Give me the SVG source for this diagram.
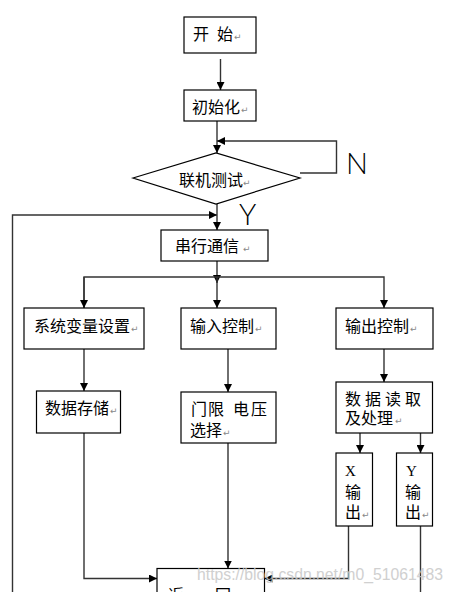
<svg xmlns="http://www.w3.org/2000/svg" width="453" height="592" viewBox="0 0 453 592">
<style>
.box{fill:#fff;stroke:#000;stroke-width:1.2}
.ln{fill:none;stroke:#333;stroke-width:1.4}
.t{font-family:"Noto Sans CJK SC","Noto Sans CJK JP",sans-serif;font-size:16px;fill:#000}
.r{font-family:"DejaVu Sans",sans-serif;font-size:9px;fill:#888}
.yn{font-family:"Lato","Liberation Sans",sans-serif;font-weight:300;font-size:29px;fill:#000}
.ser{font-family:"Liberation Serif",serif;font-size:15px;fill:#000}
.wm{font-family:"Liberation Sans",sans-serif;font-size:17px;fill:#c8c8c8;opacity:0.85}
</style>
<defs>
<marker id="ah" viewBox="0 0 10 10" refX="10" refY="5" markerWidth="8" markerHeight="8" markerUnits="userSpaceOnUse" orient="auto">
<path d="M0,0 L10,5 L0,10 Z" fill="#000"/>
</marker>
</defs>
<rect width="453" height="592" fill="#fff"/>
<g id="connectors">
<line class="ln" x1="220.5" y1="59" x2="220.5" y2="90" marker-end="url(#ah)"/>
<line class="ln" x1="217" y1="121" x2="217" y2="153" marker-end="url(#ah)"/>
<polyline class="ln" points="300,173 336.5,173 336.5,141 217,141" marker-end="url(#ah)"/>
<polyline class="ln" points="12.5,592 12.5,215 217,215" marker-end="url(#ah)"/>
<line class="ln" x1="217" y1="204" x2="217" y2="230" marker-end="url(#ah)"/>
<line class="ln" x1="217" y1="261" x2="217" y2="283" marker-end="url(#ah)"/>
<polyline class="ln" points="84,308 84,277 384,277 384,308" marker-end="url(#ah)"/>
<line class="ln" x1="217" y1="277" x2="217" y2="308" marker-end="url(#ah)"/>
<path class="ln" d="M84,277 L84,308" marker-end="url(#ah)"/>
<line class="ln" x1="84" y1="349" x2="84" y2="391" marker-end="url(#ah)"/>
<line class="ln" x1="228" y1="349" x2="228" y2="392" marker-end="url(#ah)"/>
<line class="ln" x1="384" y1="349" x2="384" y2="382" marker-end="url(#ah)"/>
<line class="ln" x1="360" y1="433" x2="360" y2="453" marker-end="url(#ah)"/>
<line class="ln" x1="420.5" y1="433" x2="420.5" y2="453" marker-end="url(#ah)"/>
<polyline class="ln" points="84,433 84,578.5 157,578.5" marker-end="url(#ah)"/>
<line class="ln" x1="228" y1="443" x2="228" y2="568.5" marker-end="url(#ah)"/>
<polyline class="ln" points="348.5,526 348.5,578.5 264.5,578.5" marker-end="url(#ah)"/>
<line class="ln" x1="420.5" y1="526" x2="420.5" y2="592"/>
</g>
<g id="n_start">
<rect class="box" x="184" y="17" width="72" height="36"/>
<text class="t" x="193 217" y="40">开始</text><text class="r" x="234" y="40">↵</text>
</g>
<g id="n_init">
<rect class="box" x="184" y="90" width="72" height="31"/>
<text class="t" x="192" y="113">初始化</text><text class="r" x="241" y="113">↵</text>
</g>
<g id="n_test">
<polygon class="box" points="133,178 216,153 300,178 216,204"/>
<text class="t" x="179" y="186">联机测试</text><text class="r" x="243" y="186">↵</text>
</g>
<text class="yn" x="346" y="174">N</text>
<text class="yn" x="239" y="225">Y</text>
<g id="n_serial">
<rect class="box" x="161" y="230" width="107" height="31"/>
<text class="t" x="175" y="252">串行通信</text><text class="r" x="243" y="252">↵</text>
</g>
<g id="n_sys">
<rect class="box" x="24" y="308" width="120" height="41"/>
<text class="t" x="34" y="332">系统变量设置</text><text class="r" x="131" y="332">↵</text>
</g>
<g id="n_in">
<rect class="box" x="181" y="308" width="95" height="41"/>
<text class="t" x="190" y="332">输入控制</text><text class="r" x="255" y="332">↵</text>
</g>
<g id="n_out">
<rect class="box" x="336" y="308" width="97" height="41"/>
<text class="t" x="345" y="332">输出控制</text><text class="r" x="410" y="332">↵</text>
</g>
<g id="n_store">
<rect class="box" x="36.5" y="391" width="84" height="42"/>
<text class="t" x="45" y="414">数据存储</text><text class="r" x="110" y="414">↵</text>
</g>
<g id="n_gate">
<rect class="box" x="181" y="392" width="95" height="51"/>
<text class="t" x="191 208 233 251" y="415">门限电压</text>
<text class="t" x="190" y="436">选择</text><text class="r" x="223" y="436">↵</text>
</g>
<g id="n_proc">
<rect class="box" x="336" y="382" width="96.5" height="51"/>
<text class="t" x="345 365 385 405" y="405">数据读取</text>
<text class="t" x="345" y="424">及处理</text><text class="r" x="395" y="424">↵</text>
</g>
<g id="n_x">
<rect class="box" x="336" y="453" width="36.5" height="73"/>
<text class="ser" x="345" y="476">X</text>
<text class="t" x="345" y="498">输</text>
<text class="t" x="345" y="518">出</text><text class="r" x="362" y="518">↵</text>
</g>
<g id="n_y">
<rect class="box" x="396.5" y="453" width="36" height="73"/>
<text class="ser" x="406" y="476">Y</text>
<text class="t" x="405" y="498">输</text>
<text class="t" x="405" y="518">出</text><text class="r" x="422" y="518">↵</text>
</g>
<g id="n_ret">
<rect class="box" x="157" y="568.5" width="107.5" height="40"/>
<text class="t" x="168 215" y="601">返回</text>
</g>
<text class="wm" x="197" y="580" textLength="246" lengthAdjust="spacingAndGlyphs">https://blog.csdn.net/m0_51061483</text>
</svg>
